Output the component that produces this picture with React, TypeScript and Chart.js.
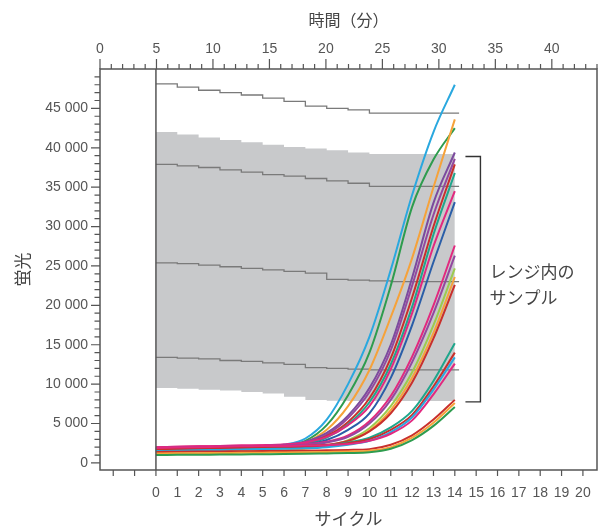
import React, { useEffect, useRef } from 'react';
import { Chart, registerables } from 'chart.js';

Chart.register(...registerables);

// ---- axis ticks / labels ----
const cycleTicks = [-2, -1, 0, 1, 2, 3, 4, 5, 6, 7, 8, 9, 10, 11, 12, 13, 14, 15, 16, 17, 18, 19, 20];
const timeLabelTicks = [0, 5, 10, 15, 20, 25, 30, 35, 40];
const yLabelTicks = [0, 5000, 10000, 15000, 20000, 25000, 30000, 35000, 40000, 45000];

const xTitle = 'サイクル';
const topTitle = '時間（分）';
const yTitle = '蛍光';
const bracketLines = ['レンジ内の', 'サンプル'];

// ---- data ----
const cycles = [0, 1, 2, 3, 4, 5, 6, 7, 8, 9, 10, 11, 12, 13, 14];
const stepCycles = [0, 1, 2, 3, 4, 5, 6, 7, 8, 9, 10, 11, 12, 13, 14, 14.2];

// gray range band (upper / lower edge)
const bandUpper = [42000, 41700, 41300, 41000, 40700, 40400, 40100, 39900, 39700, 39400, 39200, 39200, 39200, 39200, 39200];
const bandLower = [9500, 9400, 9300, 9200, 9000, 8800, 8400, 8000, 7900, 7850, 7850, 7850, 7850, 7850, 7850];

// stepped reference lines
const refLine1 = [48100, 47700, 47300, 47000, 46700, 46300, 45900, 45300, 45000, 44800, 44400, 44400, 44400, 44400, 44400, 44400];
const refLine2 = [37900, 37700, 37500, 37200, 36900, 36600, 36400, 36100, 35800, 35500, 35100, 35100, 35100, 35100, 35100, 35100];
const refLine3 = [25400, 25300, 25100, 24900, 24700, 24500, 24300, 24100, 23300, 23200, 23100, 23000, 23000, 23000, 23000, 23000];
const refLine4 = [13400, 13300, 13200, 13000, 12900, 12700, 12500, 12100, 12000, 11900, 11800, 11800, 11800, 11800, 11800, 11800];

// amplification curves
const blueA = [1700, 1750, 1800, 1850, 1900, 2000, 2300, 3100, 5500, 10000, 16000, 24500, 34000, 42000, 48000];
const greenA = [1600, 1650, 1700, 1750, 1800, 1900, 2100, 2800, 4800, 8600, 14000, 22500, 32500, 38500, 42500];
const orangeA = [1500, 1550, 1600, 1650, 1700, 1800, 1950, 2600, 4200, 7200, 11800, 18500, 26000, 35000, 43600];

const purpleB = [1900, 1950, 2000, 2050, 2100, 2150, 2300, 2700, 3800, 6000, 9500, 15000, 23500, 33000, 39400];
const violetB = [1850, 1900, 1950, 2000, 2050, 2100, 2250, 2600, 3600, 5700, 9000, 14300, 22500, 31500, 38600];
const redB = [1800, 1850, 1900, 1950, 2000, 2050, 2200, 2500, 3400, 5200, 8200, 13300, 21000, 30000, 37900];
const tealB = [1700, 1750, 1800, 1850, 1900, 1950, 2100, 2400, 3200, 4900, 7700, 12500, 19800, 29000, 36800];
const pinkB = [2000, 2050, 2100, 2150, 2200, 2250, 2350, 2600, 3300, 4800, 7200, 11900, 19000, 27500, 34500];
const navyB = [1700, 1750, 1800, 1850, 1900, 1950, 2050, 2300, 2900, 4200, 6300, 10800, 17500, 25500, 33100];

const pinkC = [2000, 2050, 2100, 2150, 2200, 2250, 2300, 2400, 2700, 3500, 5300, 8500, 13500, 20000, 27600];
const violetC = [1900, 1950, 2000, 2050, 2100, 2150, 2200, 2300, 2600, 3300, 5000, 8000, 12800, 19000, 26300];
const limeC = [1500, 1550, 1600, 1650, 1700, 1750, 1800, 1900, 2200, 2900, 4400, 7200, 11500, 17500, 24700];
const orangeC = [1400, 1450, 1500, 1550, 1600, 1650, 1700, 1800, 2100, 2700, 4100, 6700, 10800, 16500, 23600];
const redC = [1800, 1850, 1900, 1950, 2000, 2050, 2100, 2150, 2300, 2800, 4000, 6300, 10200, 15800, 22600];

const tealD = [1600, 1650, 1700, 1750, 1800, 1850, 1900, 2000, 2200, 2600, 3200, 4500, 6600, 10400, 15200];
const redD = [1700, 1750, 1800, 1850, 1900, 1950, 2000, 2050, 2200, 2500, 3000, 4200, 6100, 9700, 14000];
const blueD = [1500, 1550, 1600, 1650, 1700, 1750, 1800, 1850, 2000, 2300, 2800, 3900, 5800, 9300, 13400];
const pinkD = [1900, 1950, 2000, 2050, 2100, 2150, 2150, 2200, 2250, 2400, 2800, 3700, 5400, 8700, 12600];

const redE = [1400, 1420, 1440, 1460, 1480, 1500, 1520, 1550, 1600, 1650, 1750, 2300, 3500, 5500, 8000];
const orangeE = [1200, 1220, 1240, 1260, 1280, 1300, 1320, 1350, 1400, 1450, 1550, 2000, 3200, 5100, 7600];
const greenE = [1000, 1020, 1040, 1060, 1080, 1100, 1120, 1150, 1200, 1250, 1350, 1800, 2900, 4700, 7100];

// bracket annotation (fluorescence values of its ends / text lines)
const bracketRange = [38900, 7750];
const bracketTextValues = [24300, 21000];

const C = {
  sky: '#2aa8df', green: '#2e9c4e', orange: '#f6a23a', purple: '#7b4b9e', violet: '#93489f',
  red: '#c9302c', teal: '#1fa68c', pink: '#e2297f', navy: '#2a5ea8', lime: '#9ccb4f',
};

const curves: [number[], string][] = [
  [greenE, C.green], [orangeE, C.orange], [redE, C.red],
  [pinkD, C.pink], [blueD, C.sky], [redD, C.red], [tealD, C.teal],
  [redC, C.red], [orangeC, C.orange], [limeC, C.lime], [violetC, C.violet], [pinkC, C.pink],
  [navyB, C.navy], [pinkB, C.pink], [tealB, C.teal], [redB, C.red], [violetB, C.violet], [purpleB, C.purple],
  [orangeA, C.orange], [greenA, C.green], [blueA, C.sky],
];

const FONT = "'Liberation Sans', 'Noto Sans CJK JP', sans-serif";
const JFONT = "'Noto Sans CJK JP', 'Liberation Sans', sans-serif";
const TEXT = '#555';

const pts = (xs: number[], ys: number[]) => xs.map((x, i) => ({ x, y: ys[i] }));

const decor = {
  id: 'decor',
  afterDraw(chart: any) {
    const { ctx, chartArea: a, scales } = chart;
    const xs = scales.x, xt = scales.xTime, ys = scales.y;
    ctx.save();
    ctx.strokeStyle = '#555';
    ctx.lineWidth = 1.5;
    ctx.strokeRect(a.left, a.top, a.right - a.left, a.bottom - a.top);
    // cycle 0 line
    const x0 = xs.getPixelForValue(0);
    ctx.beginPath();
    ctx.moveTo(x0, a.top);
    ctx.lineTo(x0, a.bottom);
    ctx.stroke();
    ctx.lineWidth = 1.2;
    ctx.beginPath();
    // top minute ticks
    for (let m = 0; m <= 44; m++) {
      const x = xt.getPixelForValue(m);
      const len = m % 5 === 0 ? 10 : 5;
      ctx.moveTo(x, a.top);
      ctx.lineTo(x, a.top - len);
    }
    // y ticks
    for (let v = 0; v <= 49000; v += 1000) {
      const y = ys.getPixelForValue(v);
      const len = v % 5000 === 0 ? 9 : 5.5;
      ctx.moveTo(a.left, y);
      ctx.lineTo(a.left - len, y);
    }
    // bottom cycle ticks
    for (const c of cycleTicks) {
      const x = xs.getPixelForValue(c);
      ctx.moveTo(x, a.bottom);
      ctx.lineTo(x, a.bottom + 6);
    }
    ctx.stroke();
    // bracket
    const bx = xs.getPixelForValue(15.2);
    const by1 = ys.getPixelForValue(bracketRange[0]);
    const by2 = ys.getPixelForValue(bracketRange[1]);
    ctx.strokeStyle = '#333';
    ctx.lineWidth = 1.4;
    ctx.beginPath();
    ctx.moveTo(bx - 15, by1);
    ctx.lineTo(bx, by1);
    ctx.lineTo(bx, by2);
    ctx.lineTo(bx - 15, by2);
    ctx.stroke();
    ctx.fillStyle = '#444';
    ctx.font = `17px ${JFONT}`;
    ctx.textAlign = 'left';
    ctx.textBaseline = 'middle';
    bracketLines.forEach((t, i) => {
      ctx.fillText(t, bx + 9, ys.getPixelForValue(bracketTextValues[i]));
    });
    ctx.restore();
  },
};

export default function App() {
  const ref = useRef<HTMLCanvasElement | null>(null);
  useEffect(() => {
    if (!ref.current) return;
    const stepStyle = {
      borderColor: '#7a7a7a', borderWidth: 1.3, stepped: true, pointRadius: 0, fill: false, order: 1,
    };
    const datasets: any[] = [
      { data: pts(cycles, bandUpper), borderWidth: 0, borderColor: 'rgba(0,0,0,0)', backgroundColor: '#c8c9cb', fill: '+1', stepped: true, pointRadius: 0, order: 3 },
      { data: pts(cycles, bandLower), borderWidth: 0, borderColor: 'rgba(0,0,0,0)', fill: false, stepped: true, pointRadius: 0, order: 3 },
      { data: pts(stepCycles, refLine1), ...stepStyle },
      { data: pts(stepCycles, refLine2), ...stepStyle },
      { data: pts(stepCycles, refLine3), ...stepStyle },
      { data: pts(stepCycles, refLine4), ...stepStyle },
      ...curves.map(([vals, col]) => ({
        data: pts(cycles, vals), borderColor: col, borderWidth: 2, pointRadius: 0, fill: false,
        cubicInterpolationMode: 'monotone', order: 0,
      })),
    ];
    const chart = new Chart(ref.current, {
      type: 'line',
      data: { datasets },
      plugins: [decor],
      options: {
        animation: false,
        responsive: false,
        layout: { padding: { left: 0, right: 3, top: 0, bottom: 0 } },
        plugins: { legend: { display: false }, tooltip: { enabled: false } },
        scales: {
          x: {
            type: 'linear', position: 'bottom', min: -2.62, max: 20.66,
            afterBuildTicks: (s: any) => { s.ticks = cycleTicks.map((v) => ({ value: v })); },
            afterFit: (s: any) => { s.height = 60; s.paddingLeft = 0; s.paddingRight = 0; },
            grid: { display: false, drawTicks: true, tickLength: 15 }, border: { display: false },
            ticks: {
              autoSkip: false, maxRotation: 0, padding: 0, color: TEXT, font: { family: FONT, size: 14 },
              callback: (v: any) => (v >= 0 ? String(v) : ''),
            },
            title: { display: true, text: xTitle, color: '#444', font: { family: JFONT, size: 17 }, padding: { top: 0, bottom: 1 } },
          },
          xTime: {
            type: 'linear', position: 'top', min: 0, max: 44,
            afterBuildTicks: (s: any) => { s.ticks = timeLabelTicks.map((v) => ({ value: v })); },
            afterFit: (s: any) => { s.height = 69; s.paddingLeft = 0; s.paddingRight = 0; },
            grid: { display: false, drawTicks: true, tickLength: 11 }, border: { display: false },
            ticks: { autoSkip: false, maxRotation: 0, padding: 0, color: TEXT, font: { family: FONT, size: 14 } },
            title: { display: true, text: topTitle, color: '#444', font: { family: JFONT, size: 16 }, padding: { top: 10, bottom: 0 } },
          },
          y: {
            type: 'linear', min: -900, max: 50000,
            afterBuildTicks: (s: any) => { s.ticks = yLabelTicks.map((v) => ({ value: v })); },
            afterFit: (s: any) => { s.width = 100; },
            grid: { display: false, drawTicks: false }, border: { display: false },
            ticks: {
              autoSkip: false, padding: 12, color: TEXT, font: { family: FONT, size: 14 },
              callback: (v: any) => String(v).replace(/\B(?=(\d{3})+(?!\d))/g, ' '),
            },
            title: { display: true, text: yTitle, color: '#444', font: { family: JFONT, size: 17 }, padding: { top: 12, bottom: 0 } },
          },
        },
      } as any,
    });
    return () => chart.destroy();
  }, []);
  return (
    <div style={{ position: 'absolute', left: 0, top: 0, width: 600, height: 530 }}>
      <canvas ref={ref} width={600} height={530} />
    </div>
  );
}
